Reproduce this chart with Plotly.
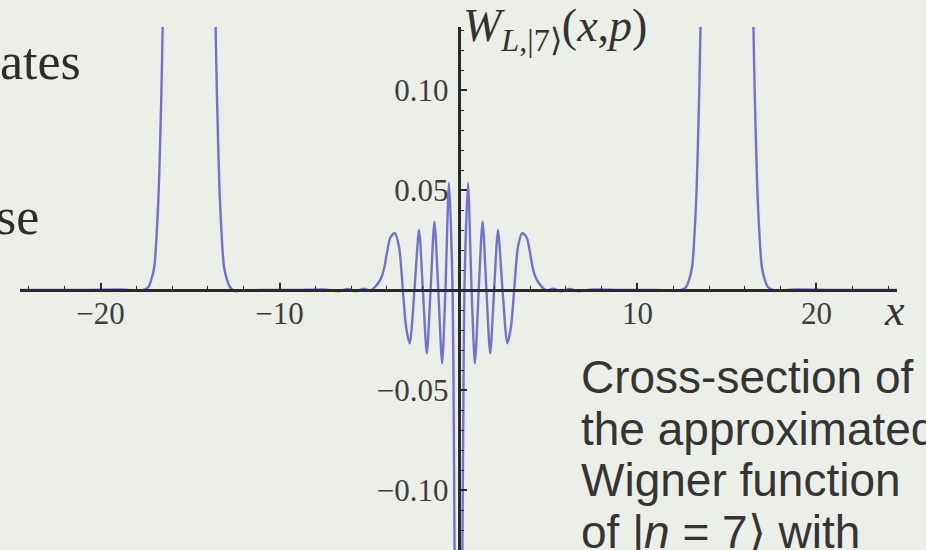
import plotly.graph_objects as go

# Cross-section W(x, p=0) of the approximated Wigner function of |n = 7>
x_vals = [
    -24.5, -21.0, -18.6, -18.0, -17.6, -17.33, -17.17, -17.0, -16.77, -16.61, -16.53,
    -16.35, -16.05, -15.55, -15.05, -14.55, -14.05, -13.75,
    -13.57, -13.49, -13.33, -13.1, -12.93, -12.77, -12.5, -12.1, -11.0,
    -9.0, -7.4, -6.7, -6.2, -5.75, -5.3, -4.95, -4.7, -4.45, -4.3, -4.15, -4.0,
    -3.82, -3.565, -3.32, -3.11, -2.93, -2.725, -2.46, -2.205, -1.99, -1.77,
    -1.56, -1.345, -1.13, -0.915, -0.73, -0.53, -0.33, -0.27, -0.22, -0.12, 0.0,
    0.12, 0.22, 0.27, 0.33, 0.53, 0.73, 0.915, 1.13, 1.345, 1.56, 1.77, 1.99,
    2.205, 2.46, 2.725, 2.93, 3.11, 3.32, 3.565, 3.82, 4.0, 4.15, 4.3, 4.45,
    4.7, 4.95, 5.3, 5.75, 6.2, 6.7, 7.4, 9.0,
    11.0, 12.1, 12.45, 12.72, 12.88, 13.05, 13.28, 13.44, 13.52,
    13.7, 14.0, 14.5, 15.0, 15.5, 16.0, 16.3,
    16.48, 16.56, 16.72, 16.95, 17.12, 17.28, 17.55, 17.9, 18.6, 21.0, 24.5,
]
w_vals = [
    0.0, 0.0, 0.0002, -0.0004, 0.0, 0.0015, 0.005, 0.0115, 0.045, 0.095, 0.131,
    0.23, 0.42, 0.62, 0.68, 0.62, 0.42, 0.23,
    0.131, 0.095, 0.045, 0.0115, 0.005, 0.0015, -0.0006, -0.0003, 0.0,
    0.0, 0.0002, -0.0006, 0.0005, -0.0007, 0.0006, -0.0003, 0.0012, 0.004, 0.0065, 0.011, 0.0185,
    0.026, 0.0285, 0.0215, 0.0, -0.0185, -0.0267, 0.0, 0.030, 0.0, -0.0317,
    0.0, 0.0342, 0.0, -0.0367, 0.0, 0.0535, 0.0, -0.06, -0.13, -0.4, -0.5,
    -0.4, -0.13, -0.06, 0.0, 0.0535, 0.0, -0.0367, 0.0, 0.0342, 0.0, -0.0317, 0.0,
    0.030, 0.0, -0.0267, -0.0185, 0.0, 0.0215, 0.0285, 0.026, 0.0185, 0.011, 0.0065, 0.004,
    0.0012, -0.0003, 0.0006, -0.0007, 0.0005, -0.0006, 0.0002, 0.0,
    0.0, -0.0003, 0.0, 0.0015, 0.005, 0.0115, 0.045, 0.095, 0.131,
    0.23, 0.42, 0.62, 0.68, 0.62, 0.42, 0.23,
    0.131, 0.095, 0.045, 0.0115, 0.005, 0.0015, 0.0, -0.0004, 0.0002, 0.0, 0.0,
]

x_ticks = [-20, -10, 10, 20]
x_tick_text = ["\u221220", "\u221210", "10", "20"]
y_ticks = [-0.10, -0.05, 0.05, 0.10]
y_tick_text = ["\u22120.10", "\u22120.05", "0.05", "0.10"]

caption_lines = ["Cross-section of", "the approximated", "Wigner function",
                 "of |<i>n</i> = 7\u27e9 with"]

W, H = 926, 550
M_L, M_R, M_T, M_B = 20, 29, 27, 0
PW = W - M_L - M_R
PH = H - M_T - M_B
X_RANGE = [-24.5, 24.5]
Y_RANGE = [-0.13, 0.1315]

BG = "#eceee8"
INK = "#2a2a2a"
LABEL = "#3e3e3e"


def fx(px):
    return (px - M_L) / PW


def fy(py):
    return (H - M_B - py) / PH


fig = go.Figure()
fig.add_trace(go.Scatter(
    x=x_vals, y=w_vals, mode="lines",
    line=dict(color="#7272d4", width=2.4, shape="spline", smoothing=0.7),
    hoverinfo="skip", showlegend=False,
))

serif = "Liberation Serif, Times New Roman, serif"
sans = "Liberation Sans, Arial, sans-serif"

fig.update_layout(
    width=W, height=H,
    margin=dict(l=M_L, r=M_R, t=M_T, b=M_B, pad=0),
    paper_bgcolor=BG, plot_bgcolor=BG,
    xaxis=dict(
        range=X_RANGE, anchor="free",
        position=(0 - Y_RANGE[0]) / (Y_RANGE[1] - Y_RANGE[0]),
        showgrid=False, zeroline=False, automargin=False,
        showline=True, linecolor=INK, linewidth=2.5,
        tickmode="array", tickvals=x_ticks, ticktext=x_tick_text,
        ticks="inside", ticklen=6, tickwidth=1.5, tickcolor=INK,
        minor=dict(tickmode="linear", tick0=0, dtick=2, ticks="inside",
                   ticklen=3, tickwidth=1, tickcolor=INK),
        tickfont=dict(family=serif, size=31, color=LABEL),
        ticklabelstandoff=-5,
    ),
    yaxis=dict(
        range=Y_RANGE, anchor="free",
        position=(0 - X_RANGE[0]) / (X_RANGE[1] - X_RANGE[0]),
        showgrid=False, zeroline=False, automargin=False,
        showline=True, linecolor=INK, linewidth=2.5,
        tickmode="array", tickvals=y_ticks, ticktext=y_tick_text,
        ticks="inside", ticklen=7, tickwidth=1.5, tickcolor=INK,
        minor=dict(tickmode="linear", tick0=0, dtick=0.01, ticks="inside",
                   ticklen=4, tickwidth=1, tickcolor=INK),
        tickfont=dict(family=serif, size=31, color=LABEL),
        ticklabelstandoff=3,
    ),
)

annotations = [
    # plot label
    dict(text="<i>W</i><sub><i>L</i>,|7\u27e9</sub>(<i>x</i>,<i>p</i>)",
         x=fx(461), y=fy(-2), xanchor="left", yanchor="top",
         font=dict(family=serif, size=46, color="#333333")),
    # horizontal axis label
    dict(text="<i>x</i>", x=fx(894), y=fy(310), xanchor="center", yanchor="middle",
         font=dict(family=serif, size=44, color="#333333")),
    # slide body text partly out of frame on the left
    dict(text="ates", x=fx(83), y=fy(62), xanchor="right", yanchor="middle",
         font=dict(family=serif, size=52, color="#2e2e2e")),
    dict(text="se", x=fx(41), y=fy(216), xanchor="right", yanchor="middle",
         font=dict(family=serif, size=52, color="#2e2e2e")),
]
for i, line in enumerate(caption_lines):
    annotations.append(dict(
        text=line, x=fx(579), y=fy(377 + 51.5 * i), xanchor="left", yanchor="middle",
        font=dict(family=sans, size=46, color="#353535"),
    ))
for a in annotations:
    a.update(xref="paper", yref="paper", showarrow=False)
fig.update_layout(annotations=annotations)

fig.write_html("out.html")
